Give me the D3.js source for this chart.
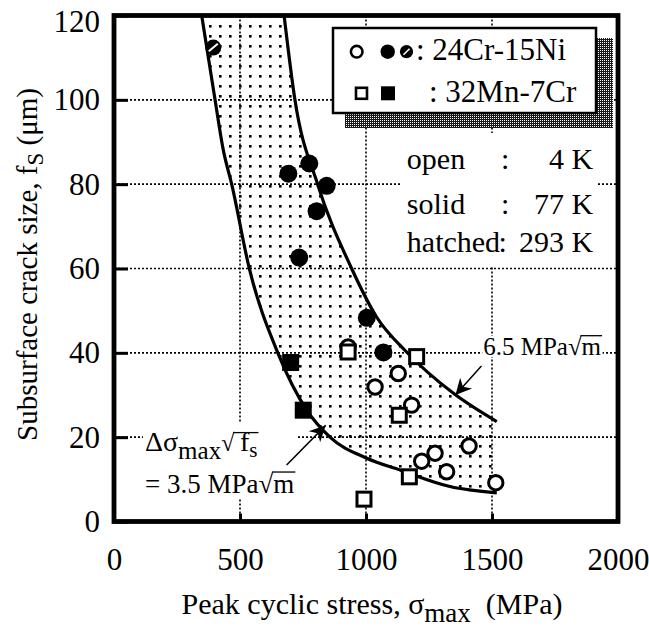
<!DOCTYPE html>
<html>
<head>
<meta charset="utf-8">
<script src="https://cdn.jsdelivr.net/npm/d3@7/dist/d3.min.js"></script>
<style>
body { margin: 0; background: #fff; }
svg text { font-family: "Liberation Serif", "Times New Roman", serif; fill: #000; }
</style>
</head>
<body>
<script>
var width = 649,
    height = 627,
    plotL = 114, plotR = 618, plotT = 15.5, plotB = 521.5;

// tick values
var xTicks = [0, 500, 1000, 1500, 2000];
var yTicks = [0, 20, 40, 60, 80, 100, 120];
var xGrid = [500, 1000, 1500];
var yGrid = [20, 40, 60, 80, 100];

// [sigma_max (MPa), f_s (um)]
var openCircles = [[929, 41.4], [1128, 35.1], [1036, 31.9], [1181, 27.6], [1274, 16.2],
                   [1221, 14.3], [1320, 11.8], [1409, 17.9], [1515, 9.2]];
var solidCircles = [[692, 82.5], [775, 84.9], [844, 79.6], [804, 73.6], [735, 62.6],
                    [1003, 48.3], [1069, 40.1]];
var hatchedCircles = [[394, 112.4]];
var openSquares = [[929, 40.2], [1201, 39.1], [1132, 25.2], [1172, 10.6], [992, 5.3]];
var solidSquares = [[701, 37.7], [751, 26.4]];

// curves
var lowerCurve = [[348, 120], [401, 100], [434, 88], [467, 80], [537, 60], [650, 40],
                  [765, 26.4], [857, 20], [1003, 15], [1135, 12.2], [1333, 8.3], [1519, 6.8]];
var upperCurve = [[675, 120], [718, 100], [808, 80], [943, 60], [1042, 48.5], [1161, 40.2],
                  [1347, 30.4], [1519, 23.7]];

var x = d3.scaleLinear().domain([0, 2000]).range([plotL, plotR]);
var y = d3.scaleLinear().domain([0, 120]).range([plotB, plotT]);

var svg = d3.select('body').append('svg')
    .attr('width', width)
    .attr('height', height);

var defs = svg.append('defs');

var dots = defs.append('pattern').attr('id', 'dots')
    .attr('patternUnits', 'userSpaceOnUse')
    .attr('x', 229).attr('y', 155)
    .attr('width', 10).attr('height', 10);
dots.append('rect').attr('width', 2.6).attr('height', 2.6).attr('fill', '#000');

var shade = defs.append('pattern').attr('id', 'shade')
    .attr('patternUnits', 'userSpaceOnUse')
    .attr('width', 2).attr('height', 2);
shade.append('rect').attr('width', 2).attr('height', 2).attr('fill', '#1a1a1a');
shade.append('rect').attr('width', 1).attr('height', 1).attr('fill', '#fff');

defs.append('clipPath').attr('id', 'plotclip')
  .append('rect')
    .attr('x', plotL).attr('y', plotT)
    .attr('width', plotR - plotL).attr('height', plotB - plotT);

defs.append('marker').attr('id', 'head')
    .attr('viewBox', '0 -5 10 10')
    .attr('refX', 10).attr('refY', 0)
    .attr('markerUnits', 'userSpaceOnUse')
    .attr('markerWidth', 22).attr('markerHeight', 16)
    .attr('orient', 'auto')
  .append('path')
    .attr('d', 'M0,-5L10,0L0,5L3,0Z')
    .attr('fill', '#000');

var line = d3.line()
    .x(function(d) { return x(d[0]); })
    .y(function(d) { return y(d[1]); })
    .curve(d3.curveMonotoneX);

// dotted band between the two curves (evenodd: area above lower minus area above upper)
var endL = lowerCurve[lowerCurve.length - 1], endU = upperCurve[upperCurve.length - 1];
var band = line(lowerCurve) + 'L' + x(endL[0]) + ',' + y(120) + 'Z' +
           line(upperCurve) + 'L' + x(endU[0]) + ',' + y(120) + 'Z';

svg.append('path')
    .attr('d', band)
    .attr('fill', 'url(#dots)')
    .attr('fill-rule', 'evenodd')
    .attr('clip-path', 'url(#plotclip)');

// grid
var grid = svg.append('g');
grid.selectAll('.gx').data(xGrid).enter().append('line')
    .attr('x1', x).attr('x2', x)
    .attr('y1', plotT).attr('y2', plotB);
grid.selectAll('.gy').data(yGrid).enter().append('line')
    .attr('y1', y).attr('y2', y)
    .attr('x1', plotL).attr('x2', plotR);
grid.selectAll('line')
    .attr('stroke', '#000')
    .attr('stroke-width', 1.6)
    .attr('stroke-dasharray', '2,2');

// legend box with shadow
var lg = { x: 333, y: 28, w: 263, h: 85 };
svg.append('rect')
    .attr('x', lg.x + 12).attr('y', lg.y + 10)
    .attr('width', lg.w + 5).attr('height', lg.h + 5)
    .attr('fill', 'url(#shade)');
svg.append('rect')
    .attr('x', lg.x).attr('y', lg.y)
    .attr('width', lg.w).attr('height', lg.h)
    .attr('fill', '#fff')
    .attr('stroke', '#000')
    .attr('stroke-width', 2.5);

var r1 = 51.7, r2 = 93.3;
svg.append('circle').attr('cx', 356.7).attr('cy', r1).attr('r', 5.8)
    .attr('fill', '#fff').attr('stroke', '#000').attr('stroke-width', 2.6);
svg.append('circle').attr('cx', 387.7).attr('cy', r1).attr('r', 7.2)
    .attr('fill', '#000');
svg.append('circle').attr('cx', 406.5).attr('cy', r1).attr('r', 6.6)
    .attr('fill', '#000');
svg.append('line').attr('x1', 403.5).attr('y1', r1 + 3).attr('x2', 409.5).attr('y2', r1 - 3)
    .attr('stroke', '#fff').attr('stroke-width', 1.6);
svg.append('rect').attr('x', 356).attr('y', r2 - 5.5).attr('width', 11).attr('height', 11)
    .attr('fill', '#fff').attr('stroke', '#000').attr('stroke-width', 2.6);
svg.append('rect').attr('x', 381).attr('y', r2 - 7).attr('width', 14).attr('height', 14)
    .attr('fill', '#000');
svg.append('text').attr('x', 416).attr('y', 60).attr('font-size', 31).text(': 24Cr-15Ni');
svg.append('text').attr('x', 429).attr('y', 101.7).attr('font-size', 31).text(': 32Mn-7Cr');

// temperature key
svg.append('rect')
    .attr('x', 402).attr('y', 133).attr('width', 196).attr('height', 133)
    .attr('fill', '#fff');
var keys = [['open', '4 K', 83.7], ['solid', '77 K', 73.0], ['hatched', '293 K', 63.9]];
var kg = svg.append('g').attr('font-size', 30);
keys.forEach(function(k) {
    kg.append('text').attr('x', x(1162)).attr('y', y(k[2])).text(k[0]);
    kg.append('text').attr('x', k[0] === 'hatched' ? x(1526) : x(1536)).attr('y', y(k[2])).text(':');
    kg.append('text').attr('x', x(1901)).attr('y', y(k[2]))
        .attr('text-anchor', 'end').text(k[1]);
});

// radical bar drawn from the end of the root sign over the following chars
function rootBar(g, t, from, to, size) {
    var n = t.node();
    var x0 = n.getEndPositionOfChar(from).x - 1;
    var x1 = n.getEndPositionOfChar(to).x + 1;
    var yb = +t.attr('y') - 0.77 * size;
    g.append('line')
        .attr('x1', x0).attr('x2', x1)
        .attr('y1', yb).attr('y2', yb)
        .attr('stroke', '#000').attr('stroke-width', 1.3);
}

// annotation: lower curve
var a1 = svg.append('g');
var a1bg = a1.append('rect').attr('fill', '#fff');
var t1 = a1.append('text').attr('x', x(123)).attr('y', y(16.7)).attr('font-size', 28);
t1.append('tspan').text('\u0394\u03c3');
t1.append('tspan').attr('dy', 8).attr('font-size', 25).text('max');
t1.append('tspan').attr('dy', -8).attr('font-size', 24).text('\u221a');
t1.append('tspan').text('\u2009f');
t1.append('tspan').attr('dy', 6).attr('font-size', 21).text('s');
var t2 = a1.append('text').attr('x', x(123)).attr('y', y(6.8)).attr('font-size', 27);
t2.append('tspan').text('= 3.5 MPa\u221am');
var b1 = a1.node().getBBox();
a1bg.attr('x', b1.x - 2).attr('y', b1.y - 3).attr('width', b1.width + 4).attr('height', b1.height + 3);
rootBar(a1, t1, 5, 8, 24);
rootBar(a1, t2, 9, 10, 27);

// annotation: upper curve
var a2 = svg.append('g');
var a2bg = a2.append('rect').attr('fill', '#fff');
var t3 = a2.append('text').attr('x', x(1465)).attr('y', y(39.5)).attr('font-size', 25);
t3.append('tspan').text('6.5 MPa\u221am');
var b2 = a2.node().getBBox();
a2bg.attr('x', b2.x - 1).attr('y', b2.y + 3).attr('width', b2.width + 2).attr('height', b2.height - 6);
rootBar(a2, t3, 7, 8, 25);

// curves
var curves = svg.append('g').attr('clip-path', 'url(#plotclip)');
[lowerCurve, upperCurve].forEach(function(c) {
    curves.append('path')
        .attr('d', line(c))
        .attr('fill', 'none')
        .attr('stroke', '#000')
        .attr('stroke-width', 3.2);
});

// arrows [from, to] in data space
var arrows = [[[685, 13.4], [840, 22.8]], [[1458, 36.9], [1355, 30.0]]];
svg.selectAll('.arrow').data(arrows).enter().append('line')
    .attr('x1', function(d) { return x(d[0][0]); })
    .attr('y1', function(d) { return y(d[0][1]); })
    .attr('x2', function(d) { return x(d[1][0]); })
    .attr('y2', function(d) { return y(d[1][1]); })
    .attr('stroke', '#000')
    .attr('stroke-width', 1.5)
    .attr('marker-end', 'url(#head)');

// markers
var pts = svg.append('g');
pts.selectAll('.oc').data(openCircles).enter().append('circle')
    .attr('cx', function(d) { return x(d[0]); })
    .attr('cy', function(d) { return y(d[1]); })
    .attr('r', 7.2)
    .attr('fill', '#fff').attr('stroke', '#000').attr('stroke-width', 3);
pts.selectAll('.sc').data(solidCircles).enter().append('circle')
    .attr('cx', function(d) { return x(d[0]); })
    .attr('cy', function(d) { return y(d[1]); })
    .attr('r', 9)
    .attr('fill', '#000');
var hc = pts.selectAll('.hc').data(hatchedCircles).enter().append('g')
    .attr('transform', function(d) { return 'translate(' + x(d[0]) + ',' + y(d[1]) + ')'; });
hc.append('circle').attr('r', 8).attr('fill', '#000');
hc.append('line').attr('x1', -4.5).attr('y1', 3.8).attr('x2', 4.5).attr('y2', -3.8)
    .attr('stroke', '#fff').attr('stroke-width', 2);
pts.selectAll('.os').data(openSquares).enter().append('rect')
    .attr('x', function(d) { return x(d[0]) - 7; })
    .attr('y', function(d) { return y(d[1]) - 7; })
    .attr('width', 14).attr('height', 14)
    .attr('fill', '#fff').attr('stroke', '#000').attr('stroke-width', 3);
pts.selectAll('.ss').data(solidSquares).enter().append('rect')
    .attr('x', function(d) { return x(d[0]) - 8.5; })
    .attr('y', function(d) { return y(d[1]) - 8.5; })
    .attr('width', 17).attr('height', 17)
    .attr('fill', '#000');

// axes
var xAxis = svg.append('g')
    .attr('transform', 'translate(0,' + plotB + ')')
    .call(d3.axisBottom(x).tickValues(xTicks).tickFormat(d3.format('d')).tickSize(-8).tickPadding(0));
var yAxis = svg.append('g')
    .attr('transform', 'translate(' + plotL + ',0)')
    .call(d3.axisLeft(y).tickValues(yTicks).tickSize(-14).tickPadding(14));
[xAxis, yAxis].forEach(function(a) {
    a.select('.domain').remove();
    a.attr('font-family', null).attr('font-size', 31);
    a.selectAll('line').attr('stroke-width', 3);
});
xAxis.selectAll('text').attr('y', 48.5).attr('dy', 0);
yAxis.selectAll('text').filter(function(d) { return d === 120; }).attr('dy', '0.52em');

// frame
svg.append('rect')
    .attr('x', plotL).attr('y', plotT)
    .attr('width', plotR - plotL).attr('height', plotB - plotT)
    .attr('fill', 'none')
    .attr('stroke', '#000')
    .attr('stroke-width', 4.8);

// axis titles
var xt = svg.append('text')
    .attr('x', (plotL + plotR) / 2 + 6).attr('y', 614)
    .attr('text-anchor', 'middle')
    .attr('font-size', 30);
xt.append('tspan').text('Peak cyclic stress, \u03c3');
xt.append('tspan').attr('dy', 8).attr('font-size', 27).text('max');
xt.append('tspan').attr('dy', -8).text('\u00a0 (MPa)');

var yt = svg.append('text')
    .attr('transform', 'translate(37,' + ((plotT + plotB) / 2 - 4) + ')rotate(-90)')
    .attr('text-anchor', 'middle')
    .attr('font-size', 29);
yt.append('tspan').text('Subsurface crack size, f');
yt.append('tspan').attr('dy', 6).attr('font-size', 23).text('S');
yt.append('tspan').attr('dy', -6).text(' (\u03bcm)');
</script>
</body>
</html>
